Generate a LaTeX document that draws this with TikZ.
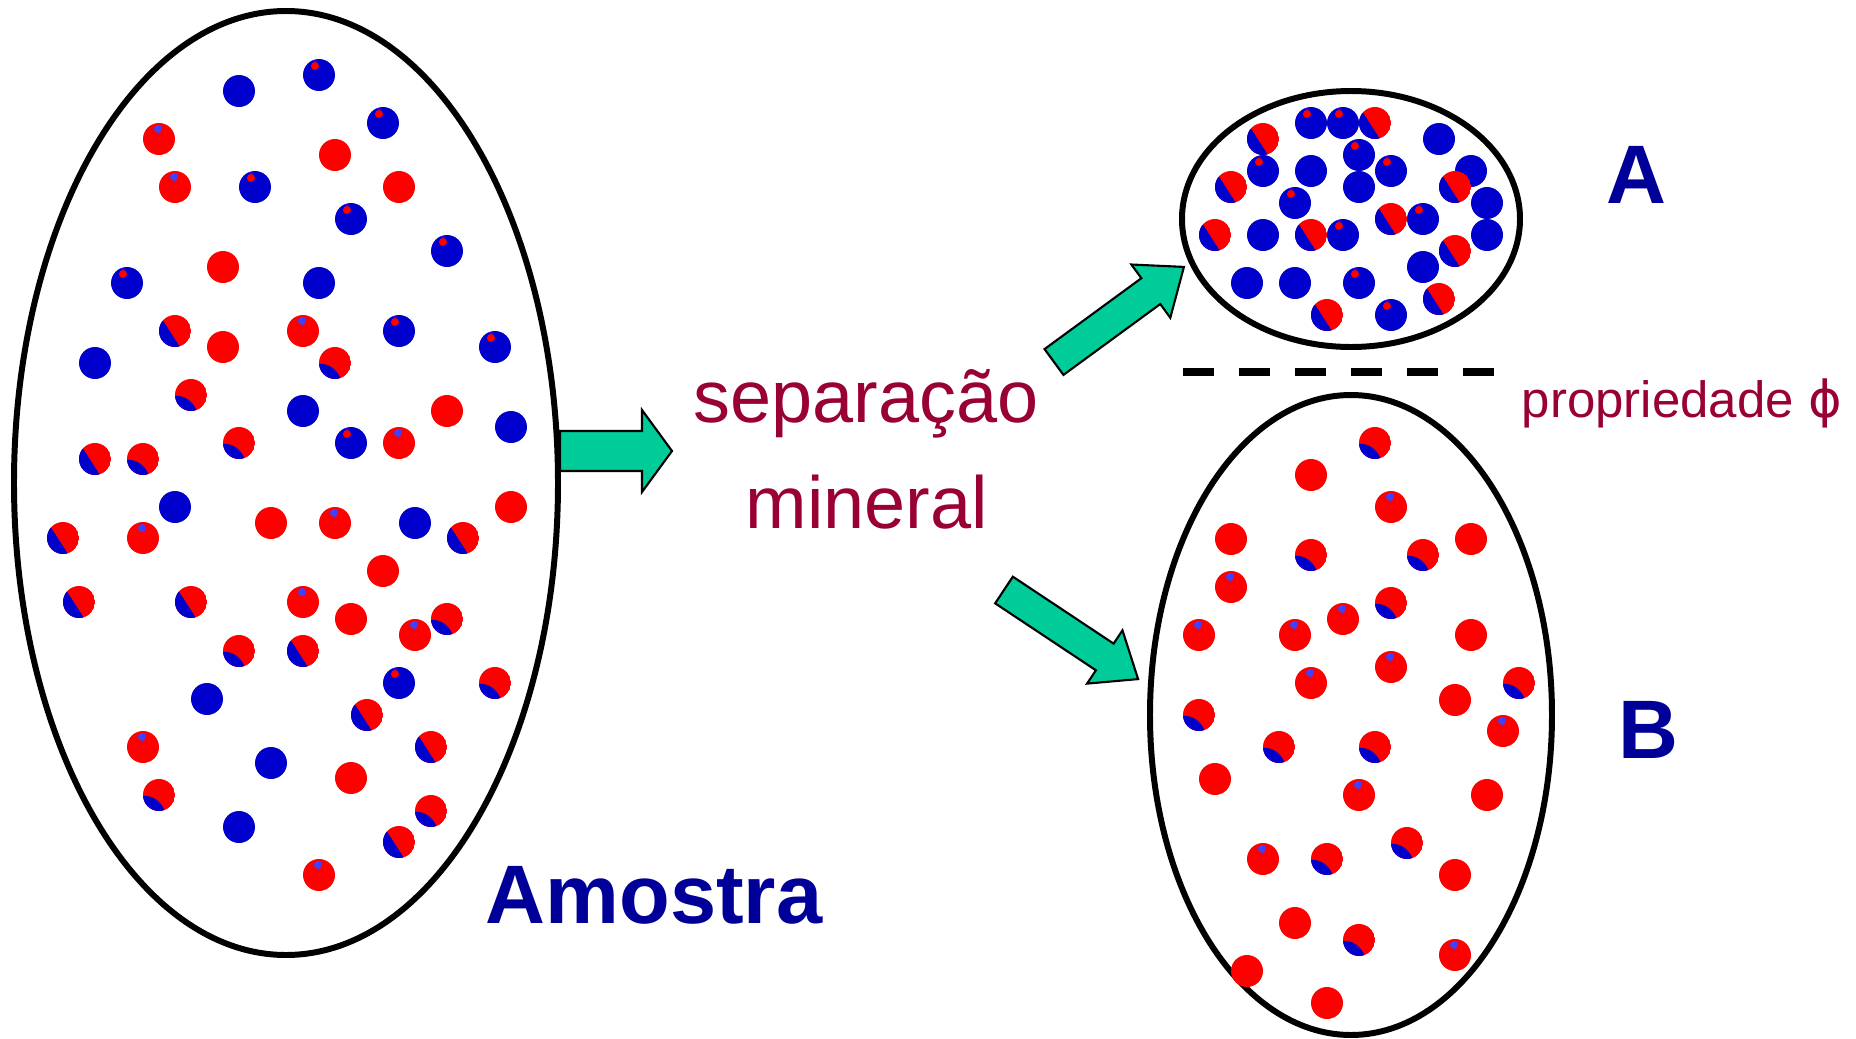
\documentclass[tikz,border=0pt]{standalone}
\usepackage{fontspec}
\setmainfont{Liberation Sans}
\newfontfamily\greekfont{DejaVu Sans}
\usepackage{tikz}

\definecolor{mblue}{RGB}{0,0,204}
\definecolor{mred}{RGB}{255,0,0}
\definecolor{mdot}{RGB}{64,64,255}
\definecolor{mgreen}{RGB}{0,204,153}
\definecolor{navy}{RGB}{0,0,153}
\definecolor{wine}{RGB}{153,0,51}

% x, y, angle, length, head length, shaft half width, head half width
\newcommand{\blockarrow}[7]{%
  \draw[garrow, shift={(#1,#2)}, rotate=#3]
    (0,-#6) -- ({#4-#5},-#6) -- ({#4-#5},-#7) -- (#4,0)
    -- ({#4-#5},#7) -- ({#4-#5},#6) -- (0,#6) -- cycle;}

\begin{document}
\begin{tikzpicture}[x=0.01cm, y=-0.01cm,
    garrow/.style={fill=mgreen, draw=black, line width=0.6pt, line join=miter},
    ring/.style={draw=black, line width=1.7pt},
    bigtag/.style={font=\fontsize{23.6pt}{28pt}\selectfont\bfseries, text=navy, inner sep=0pt},
    redtag/.style={font=\fontsize{21pt}{25pt}\selectfont, text=wine, inner sep=0pt},
    smalltag/.style={font=\fontsize{14.5pt}{17pt}\selectfont, text=wine, inner sep=0pt}]
    \useasboundingbox (0,0) rectangle (1856,1039);

    \blockarrow{560}{451}{0}{112}{30}{20}{41}
    \blockarrow{1054}{362}{36.2}{161}{41}{16}{33}
    \blockarrow{1004}{590}{-33.6}{161}{40}{16}{32}

    \draw[ring] (286,483) ellipse (272 and 472);
    \draw[ring] (1351,219) ellipse (169 and 128);
    \draw[ring] (1351,715) ellipse (201 and 320);
    \draw[black, line width=2pt, dash pattern=on 8.8pt off 7.1pt] (1183,372) -- (1496,372);

    % blue grains
    \foreach \x/\y in {239/91,319/283,95/363,303/411,511/427,175/507,415/523,207/699,271/763,239/827,
                       1439/139,1311/171,1471/171,1359/187,1487/203,1263/235,1487/235,1423/267,1247/283,1295/283}
    {
        \fill[mblue] (\x,\y) circle (16);
    }
    % blue grains with a red spot
    \foreach \x/\y in {319/75,383/123,255/187,351/219,447/251,127/283,399/331,495/347,351/443,399/683,
                       1311/123,1343/123,1359/155,1263/171,1391/171,1295/203,1423/219,1343/235,1359/283,1391/315}
    {
        \fill[mblue] (\x,\y) circle (16);
        \fill[mred] (\x-4,\y-9) circle (4);
    }
    % red grains
    \foreach \x/\y in {335/155,399/187,223/267,223/347,447/411,271/523,511/507,383/571,351/619,351/778,
                       1311/475,1231/539,1471/539,1471/635,1455/700,1215/779,1487/795,1455/875,1295/923,1247/971,1327/1003}
    {
        \fill[mred] (\x,\y) circle (16);
    }
    % red grains with a blue spot
    \foreach \x/\y in {159/139,175/187,303/331,399/443,143/538,335/523,303/602,415/635,143/747,319/875,
                       1391/507,1231/587,1343/619,1199/635,1295/635,1311/683,1391/667,1503/731,1359/795,1263/859,1455/955}
    {
        \fill[mred] (\x,\y) circle (16);
        \fill[mdot] (\x-1,\y-10) circle (4);
    }
    % mixed grains, blue side
    \foreach \x/\y in {175/331,95/459,63/538,463/538,79/602,191/602,303/651,367/715,431/747,399/842,
                       1375/123,1263/139,1231/187,1455/187,1391/219,1215/235,1311/235,1455/251,1439/299,1327/315}
    {
        \begin{scope}[shift={(\x,\y)}]
            \clip (0,0) circle (16);
            \fill[mred] (0,0) circle (16);
            \fill[mblue] (-13,-12) -- (5,16) -- (-17,16) -- (-17,-12) -- cycle;
        \end{scope}
    }
    % mixed grains, blue corner
    \foreach \x/\y in {335/363,191/395,143/459,239/443,447/619,239/651,495/683,159/795,431/811,
                       1375/443,1311/555,1423/555,1391/603,1519/683,1199/715,1279/747,1375/747,1407/843,1327/859,1359/940}
    {
        \begin{scope}[shift={(\x,\y)}]
            \clip (0,0) circle (16);
            \fill[mred] (0,0) circle (16);
            \fill[mblue] (-17,1) .. controls (-7,0) and (1,5) .. (6,16) -- (-17,17) -- cycle;
        \end{scope}
    }

    \node[bigtag, anchor=base west] (amostra) at (485,923) {Amostra};
    \node[redtag, anchor=base] (sep) at (866,422) {separação};
    \node[redtag, anchor=base] (mineral) at (867,528) {mineral};
    \node[smalltag, anchor=base west] (prop) at (1521,417) {propriedade {\greekfont ϕ}};
    \node[bigtag, anchor=base] (labA) at (1636,203) {A};
    \node[bigtag, anchor=base] (labB) at (1648,758) {B};
\end{tikzpicture}
\end{document}
